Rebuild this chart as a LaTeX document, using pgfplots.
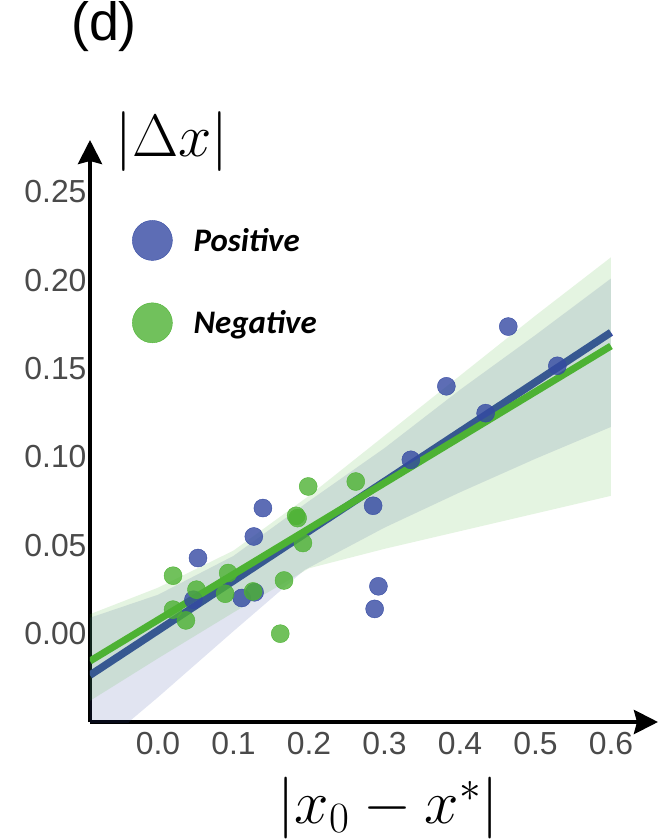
\RequirePackage{fix-cm}
\documentclass[border=0pt]{standalone}
\usepackage{pgfplots}
\pgfplotsset{compat=1.18}
\usetikzlibrary{arrows.meta}
\usepackage{fontspec}
\setmainfont{Liberation Sans}
\newfontfamily\carlito{Carlito}
\definecolor{bluec}{HTML}{3449A2}
\definecolor{greenc}{HTML}{4DB233}
\definecolor{tickgray}{HTML}{4A4A4A}

\pgfplotstableread{
x y
0.053 0.0428
0.139 0.0711
0.127 0.0550
0.111 0.0202
0.128 0.0234
0.047 0.0192
0.285 0.0724
0.292 0.0268
0.287 0.0140
0.335 0.0984
0.382 0.1400
0.434 0.1248
0.464 0.1738
0.529 0.1516
}\positive

\pgfplotstableread{
x y
0.020 0.0328
0.051 0.0249
0.093 0.0343
0.089 0.0226
0.126 0.0239
0.167 0.0301
0.162 0.0000
0.020 0.0136
0.037 0.0075
0.192 0.0513
0.183 0.0667
0.185 0.0654
0.199 0.0833
0.262 0.0861
}\negative

\begin{document}
\begin{tikzpicture}
\begin{axis}[
  scale only axis,
  width=568bp, height=582bp,
  xmin=-0.09, xmax=0.6623, ymin=-0.05, ymax=0.2794,
  axis lines=left,
  axis line style={line width=4bp, black, -{Stealth[length=24bp,width=24bp,inset=3bp]}},
  xtick={0,0.1,0.2,0.3,0.4,0.5,0.6},
  ytick={0,0.05,0.1,0.15,0.2,0.25},
  major tick length=0pt,
  /pgf/number format/assume math mode=true,
  tick label style={font=\fontsize{32}{36}\selectfont, text=tickgray},
  xticklabel={\pgfmathprintnumber[fixed,fixed zerofill,precision=1]{\tick}},
  yticklabel={\pgfmathprintnumber[fixed,fixed zerofill,precision=2]{\tick}},
  xticklabel style={yshift=-7bp},
  xlabel={$\bigl|x_0-x^*\bigr|$},
  xlabel style={at={(axis description cs:0.5246,-0.1478)}, anchor=center, font=\fontsize{62}{66}\selectfont},
  ylabel={$\bigl|\Delta x\bigr|$},
  ylabel style={at={(axis description cs:0.1444,0.998)}, anchor=center, rotate=-90, font=\fontsize{60}{64}\selectfont},
  title={(d)},
  title style={at={(axis description cs:0.0246,1.1838)}, anchor=center, font=\fontsize{54}{60}\selectfont},
  legend cell align=left,
  legend style={draw=none, fill=none, at={(axis description cs:0.0739,0.8625)}, anchor=north west,
    inner sep=0pt, row sep=42bp, column sep=21bp,
    font=\carlito\bfseries\itshape\fontsize{33}{36}\selectfont,
    nodes={inner sep=0pt}},
]
% positive: scatter, band, line
\addplot[only marks, mark=*, mark size=9bp, color=bluec,
  mark options={draw=none, fill=bluec, fill opacity=0.8},
  legend image code/.code={\fill[bluec, fill opacity=0.8] (0bp,0bp) circle (20bp);}]
  table {\positive};
\addlegendentry{Positive}
\addplot[draw=none, fill=bluec, fill opacity=0.15, forget plot] coordinates {
  (-0.09,0.009) (0.0,0.022) (0.1,0.044) (0.2,0.075) (0.3,0.105) (0.4,0.138) (0.5,0.169) (0.6,0.201)
  (0.6,0.117) (0.5,0.099) (0.4,0.080) (0.3,0.060) (0.194,0.036) (0.15,0.0198) (0.1,0.0014) (0.0,-0.036) (-0.036,-0.049) (-0.09,-0.075)
} -- cycle;
\addplot[bluec, line width=7.5bp, forget plot] coordinates {(-0.09,-0.0235) (0.6,0.1705)};
% negative: scatter, band, line
\addplot[only marks, mark=*, mark size=9bp, color=greenc,
  mark options={draw=none, fill=greenc, fill opacity=0.8},
  legend image code/.code={\fill[greenc, fill opacity=0.8] (0bp,0bp) circle (20bp);}]
  table {\negative};
\addlegendentry{Negative}
\addplot[draw=none, fill=greenc, fill opacity=0.15, forget plot] coordinates {
  (-0.09,0.011) (0.0,0.026) (0.1,0.047) (0.2,0.078) (0.3,0.112) (0.4,0.146) (0.5,0.180) (0.6,0.213)
  (0.6,0.078) (0.5,0.068) (0.4,0.058) (0.3,0.048) (0.2,0.037) (0.1,0.012) (0.0,-0.014) (-0.09,-0.038)
} -- cycle;
\addplot[greenc, line width=7bp, forget plot] coordinates {(-0.09,-0.0155) (0.6,0.1628)};
\end{axis}
\pgfresetboundingbox
\path[use as bounding box] (current axis.south west) ++(-90bp,-118bp) rectangle ++(660bp,840bp);
\end{tikzpicture}
\end{document}
